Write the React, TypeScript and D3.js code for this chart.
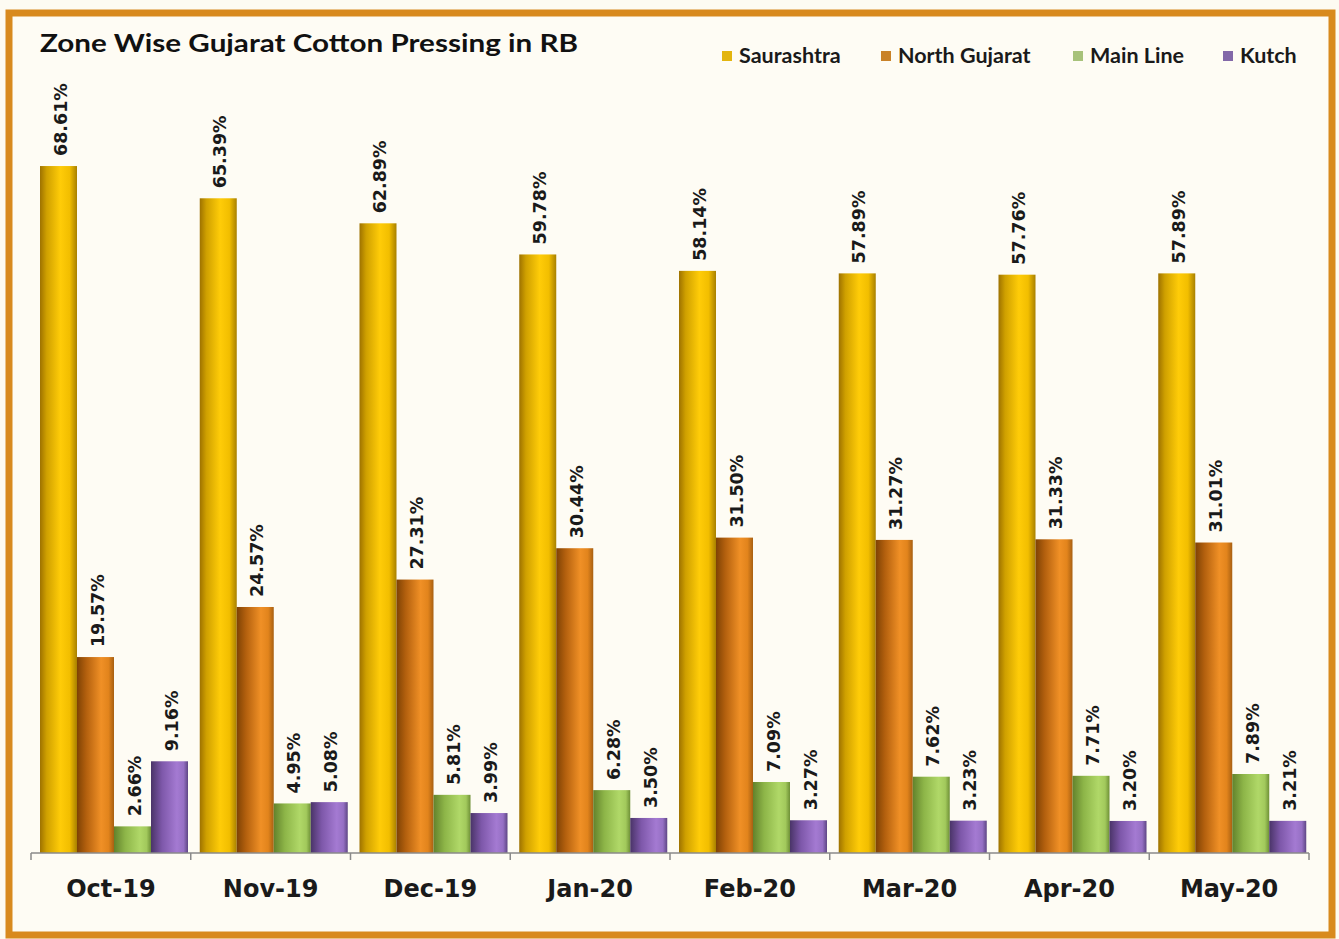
import React from "react";
import * as d3 from "d3";

const categories = ["Oct-19", "Nov-19", "Dec-19", "Jan-20", "Feb-20", "Mar-20", "Apr-20", "May-20"];
const seriesNames = ["Saurashtra", "North Gujarat", "Main Line", "Kutch"];
const saurashtra = [68.61, 65.39, 62.89, 59.78, 58.14, 57.89, 57.76, 57.89];
const northGujarat = [19.57, 24.57, 27.31, 30.44, 31.5, 31.27, 31.33, 31.01];
const mainLine = [2.66, 4.95, 5.81, 6.28, 7.09, 7.62, 7.71, 7.89];
const kutch = [9.16, 5.08, 3.99, 3.5, 3.27, 3.23, 3.2, 3.21];
const seriesValues = [saurashtra, northGujarat, mainLine, kutch];
const title = "Zone Wise Gujarat Cotton Pressing in RB";

const gradients = [
  [["0%", "#9E7200"], ["18%", "#CFA000"], ["55%", "#FFCC08"], ["80%", "#F2BE00"], ["100%", "#A88000"]],
  [["0%", "#7E4204"], ["25%", "#B3600E"], ["65%", "#F09026"], ["85%", "#E2841C"], ["100%", "#A86012"]],
  [["0%", "#62822C"], ["30%", "#8DB548"], ["70%", "#B0D868"], ["88%", "#A2C95C"], ["100%", "#6E9036"]],
  [["0%", "#4A3468"], ["30%", "#7E58AA"], ["70%", "#A47AD2"], ["88%", "#9670C4"], ["100%", "#5E4684"]],
];
const legendColors = ["#E3B50E", "#C98228", "#A7C27A", "#8268A8"];
const legendTextX = [739, 898, 1090, 1240];

export default function App() {
  const W = 1339;
  const H = 939;
  const x0 = d3.scaleBand<string>().domain(categories).range([31, 1309]).padding(0);
  const x1 = d3.scaleBand<string>().domain(seriesNames).range([9, 157]).padding(0);
  const y = d3.scaleLinear().domain([0, 80]).range([853, 52]);
  const base = y(0);
  const labelFont = "'DejaVu Sans', Verdana, sans-serif";

  return (
    <div style={{ position: "absolute", left: 0, top: 0 }}>
      <svg width={W} height={H} style={{ display: "block" }}>
        <defs>
          {gradients.map((stops, i) => (
            <linearGradient key={i} id={`g${i}`} x1="0" y1="0" x2="1" y2="0">
              {stops.map(([o, c], j) => (
                <stop key={j} offset={o} stopColor={c} />
              ))}
            </linearGradient>
          ))}
        </defs>
        <rect x={0} y={0} width={W} height={H} fill="#FDFBF2" />
        <rect x={9} y={13} width={1323} height={922} fill="#FEFCF4" stroke="#D88A1E" strokeWidth={7} />

        <text x={40} y={52} fontFamily="Lato, 'Open Sans', sans-serif" fontWeight={700} fontSize={25} fill="#111" textLength={538} lengthAdjust="spacingAndGlyphs">
          {title}
        </text>

        {seriesNames.map((s, i) => (
          <g key={s}>
            <rect x={legendTextX[i] - 17} y={51} width={10} height={10} fill={legendColors[i]} />
            <text x={legendTextX[i]} y={63} fontFamily="Lato, 'Open Sans', sans-serif" fontWeight={700} fontSize={21.5} fill="#1a1a1a">
              {s}
            </text>
          </g>
        ))}

        {categories.map((c, ci) => (
          <g key={c} transform={`translate(${x0(c)},0)`}>
            {seriesNames.map((s, si) => {
              const v = seriesValues[si][ci];
              const bx = x1(s)!;
              const bw = x1.bandwidth();
              const top = y(v);
              const cx = bx + bw / 2 + 2;
              return (
                <g key={s}>
                  <rect x={bx} y={top} width={bw} height={base - top} fill={`url(#g${si})`} />
                  <text
                    transform={`translate(${cx},${top - 10}) rotate(-90)`}
                    textAnchor="start"
                    dominantBaseline="central"
                    fontFamily={labelFont}
                    fontWeight={700}
                    fontSize={17.5}
                    fill="#1a1a1a"
                  >
                    {v.toFixed(2) + "%"}
                  </text>
                </g>
              );
            })}
            <text x={x0.bandwidth() / 2} y={897} textAnchor="middle" fontFamily={labelFont} fontWeight={700} fontSize={24} fill="#1a1a1a">
              {c}
            </text>
          </g>
        ))}

        <line x1={31} x2={1309} y1={base} y2={base} stroke="#8a8a8a" strokeWidth={1.5} />
        {d3.range(categories.length + 1).map((i) => {
          const tx = i < categories.length ? x0(categories[i])! : 1309;
          return <line key={i} x1={tx} x2={tx} y1={base} y2={base + 7} stroke="#8a8a8a" strokeWidth={1.5} />;
        })}
      </svg>
    </div>
  );
}
